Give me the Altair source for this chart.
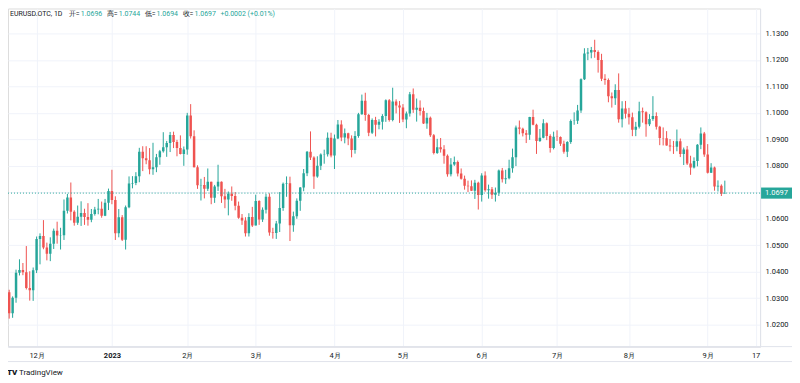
import altair as alt
import pandas as pd

# Daily EUR/USD candles, 2022-11-21 .. 2023-09-08 (one per weekday)
opens = [1.0323, 1.0243, 1.0302, 1.0396, 1.0407, 1.0398, 1.0339, 1.0330,
         1.0406, 1.0524, 1.0535, 1.0492, 1.0468, 1.0506, 1.0555, 1.0537, 1.0538, 1.0630, 1.0680, 1.0627,
         1.0585, 1.0608, 1.0622, 1.0607, 1.0596, 1.0618, 1.0635, 1.0638, 1.0611, 1.0661,
         1.0705, 1.0671, 1.0545, 1.0606, 1.0521, 1.0644, 1.0733, 1.0735, 1.0761, 1.0853, 1.0829,
         1.0821, 1.0787, 1.0795, 1.0832, 1.0855, 1.0870, 1.0886, 1.0916, 1.0890, 1.0867, 1.0845,
         1.0862, 1.0990, 1.0912, 1.0795, 1.0727, 1.0728, 1.0713, 1.0740, 1.0679, 1.0722,
         1.0740, 1.0685, 1.0673, 1.0695, 1.0686, 1.0649, 1.0604, 1.0594, 1.0545, 1.0607,
         1.0575, 1.0667, 1.0597, 1.0634, 1.0683, 1.0548, 1.0546, 1.0582, 1.0641, 1.0732,
         1.0734, 1.0576, 1.0610, 1.0668, 1.0718, 1.0772, 1.0853, 1.0831, 1.0760, 1.0800,
         1.0843, 1.0844, 1.0906,
         1.0839, 1.0903, 1.0956, 1.0907, 1.0923, 1.0903, 1.0860, 1.0913, 1.0995, 1.1046,
         1.0992, 1.0925, 1.0973, 1.0955, 1.0966, 1.0988, 1.1048, 1.0973, 1.1043, 1.1028,
         1.1020, 1.0975, 1.0998, 1.1070, 1.1012, 1.1019, 1.1007, 1.0960, 1.0982, 1.0915,
         1.0848, 1.0870, 1.0863, 1.0838, 1.0768, 1.0805, 1.0814, 1.0771, 1.0751, 1.0725,
         1.0723, 1.0706, 1.0736,
         1.0690, 1.0763, 1.0708, 1.0712, 1.0691, 1.0698, 1.0782, 1.0749, 1.0753, 1.0791,
         1.0832, 1.0945, 1.0940, 1.0923, 1.0917, 1.0984, 1.0955, 1.0894, 1.0906, 1.0961,
         1.0913, 1.0867,
         1.0910, 1.0909, 1.0883, 1.0853, 1.0890, 1.0969, 1.0970, 1.1009, 1.1127, 1.1224,
         1.1228, 1.1237, 1.1230, 1.1200, 1.1129, 1.1124, 1.1063, 1.1055, 1.1086, 1.0976,
         1.1016,
         1.0997, 1.0983, 1.0936, 1.0948, 1.1006, 1.1002, 1.0957, 1.0977, 1.0988, 1.0948,
         1.0905, 1.0904, 1.0877, 1.0873, 1.0872, 1.0893, 1.0845, 1.0862, 1.0809, 1.0794,
         1.0818, 1.0880, 1.0922,
         1.0843, 1.0774, 1.0794, 1.0722, 1.0725, 1.0696]

highs = [1.0332, 1.0307, 1.0408, 1.0447, 1.0433, 1.0497, 1.0402, 1.0416,
         1.0533, 1.0545, 1.0595, 1.0510, 1.0530, 1.0563, 1.0589, 1.0566, 1.0673, 1.0694, 1.0737, 1.0632,
         1.0650, 1.0666, 1.0638, 1.0659, 1.0637, 1.0645, 1.0675, 1.0665, 1.0675, 1.0714,
         1.0785, 1.0685, 1.0637, 1.0614, 1.0650, 1.0760, 1.0761, 1.0776, 1.0868, 1.0874, 1.0874,
         1.0867, 1.0887, 1.0845, 1.0860, 1.0927, 1.0894, 1.0928, 1.0929, 1.0898, 1.0915, 1.0873,
         1.1000, 1.1033, 1.0934, 1.0802, 1.0751, 1.0758, 1.0790, 1.0740, 1.0728, 1.0804,
         1.0741, 1.0713, 1.0703, 1.0722, 1.0701, 1.0665, 1.0618, 1.0606, 1.0621, 1.0645,
         1.0691, 1.0670, 1.0643, 1.0694, 1.0696, 1.0566, 1.0592, 1.0701, 1.0737, 1.0760,
         1.0759, 1.0627, 1.0677, 1.0720, 1.0788, 1.0856, 1.0930, 1.0836, 1.0836, 1.0847,
         1.0861, 1.0926, 1.0925,
         1.0918, 1.0973, 1.0972, 1.0941, 1.0925, 1.0915, 1.0931, 1.1000, 1.1069, 1.1076,
         1.0996, 1.0979, 1.0985, 1.0976, 1.0995, 1.1051, 1.1052, 1.1095, 1.1051, 1.1045,
         1.1033, 1.1005, 1.1079, 1.1092, 1.1054, 1.1047, 1.1020, 1.1000, 1.0986, 1.0920,
         1.0902, 1.0905, 1.0878, 1.0843, 1.0829, 1.0835, 1.0820, 1.0790, 1.0763, 1.0744,
         1.0745, 1.0747, 1.0740,
         1.0772, 1.0779, 1.0729, 1.0720, 1.0718, 1.0786, 1.0792, 1.0785, 1.0823, 1.0865,
         1.0952, 1.0971, 1.0944, 1.0935, 1.0985, 1.1012, 1.0959, 1.0939, 1.0976, 1.0964,
         1.0919, 1.0929,
         1.0934, 1.0911, 1.0895, 1.0893, 1.0975, 1.1002, 1.1030, 1.1130, 1.1244, 1.1245,
         1.1249, 1.1276, 1.1236, 1.1223, 1.1146, 1.1130, 1.1077, 1.1108, 1.1149, 1.1044,
         1.1045,
         1.1019, 1.1001, 1.0966, 1.1042, 1.1020, 1.1006, 1.0995, 1.1063, 1.1002, 1.0951,
         1.0945, 1.0931, 1.0901, 1.0894, 1.0937, 1.0903, 1.0869, 1.0875, 1.0838, 1.0832,
         1.0882, 1.0945, 1.0928,
         1.0882, 1.0810, 1.0797, 1.0745, 1.0730, 1.0744]

lows = [1.0223, 1.0226, 1.0283, 1.0386, 1.0387, 1.0333, 1.0291, 1.0290,
        1.0395, 1.0428, 1.0485, 1.0443, 1.0440, 1.0486, 1.0506, 1.0484, 1.0520, 1.0620, 1.0594, 1.0574,
        1.0577, 1.0573, 1.0577, 1.0574, 1.0587, 1.0612, 1.0617, 1.0604, 1.0610, 1.0633,
        1.0655, 1.0520, 1.0530, 1.0516, 1.0484, 1.0640, 1.0715, 1.0727, 1.0738, 1.0780, 1.0806,
        1.0768, 1.0766, 1.0776, 1.0804, 1.0850, 1.0834, 1.0852, 1.0867, 1.0836, 1.0843, 1.0800,
        1.0842, 1.0903, 1.0794, 1.0713, 1.0669, 1.0677, 1.0705, 1.0655, 1.0660, 1.0705,
        1.0660, 1.0640, 1.0613, 1.0668, 1.0632, 1.0600, 1.0577, 1.0533, 1.0533, 1.0569,
        1.0575, 1.0577, 1.0588, 1.0620, 1.0536, 1.0525, 1.0524, 1.0550, 1.0630, 1.0683,
        1.0516, 1.0551, 1.0600, 1.0630, 1.0704, 1.0761, 1.0822, 1.0713, 1.0755, 1.0784,
        1.0808, 1.0835, 1.0832,
        1.0788, 1.0901, 1.0893, 1.0885, 1.0878, 1.0832, 1.0846, 1.0906, 1.0993, 1.0970,
        1.0912, 1.0920, 1.0911, 1.0938, 1.0937, 1.0966, 1.0967, 1.0968, 1.0998, 1.0962,
        1.0965, 1.0942, 1.0986, 1.1000, 1.0967, 1.0990, 1.0958, 1.0940, 1.0909, 1.0843,
        1.0845, 1.0850, 1.0808, 1.0759, 1.0760, 1.0800, 1.0760, 1.0748, 1.0710, 1.0701,
        1.0705, 1.0675, 1.0635,
        1.0665, 1.0702, 1.0676, 1.0675, 1.0665, 1.0686, 1.0737, 1.0732, 1.0749, 1.0774,
        1.0799, 1.0919, 1.0911, 1.0886, 1.0898, 1.0953, 1.0845, 1.0890, 1.0904, 1.0897,
        1.0850, 1.0862,
        1.0894, 1.0875, 1.0846, 1.0833, 1.0883, 1.0955, 1.0958, 1.1000, 1.1124, 1.1199,
        1.1206, 1.1208, 1.1152, 1.1120, 1.1106, 1.1040, 1.1020, 1.1030, 1.0963, 1.0945,
        1.0979,
        1.0956, 1.0912, 1.0912, 1.0941, 1.0963, 1.0910, 1.0950, 1.0970, 1.0937, 1.0878,
        1.0877, 1.0876, 1.0855, 1.0845, 1.0855, 1.0833, 1.0803, 1.0803, 1.0766, 1.0790,
        1.0798, 1.0863, 1.0834,
        1.0771, 1.0773, 1.0706, 1.0703, 1.0686, 1.0694]

closes = [1.0243, 1.0302, 1.0396, 1.0407, 1.0398, 1.0339, 1.0330, 1.0406,
          1.0524, 1.0535, 1.0492, 1.0468, 1.0506, 1.0555, 1.0537, 1.0538, 1.0630, 1.0680, 1.0627, 1.0585,
          1.0608, 1.0622, 1.0607, 1.0596, 1.0618, 1.0635, 1.0638, 1.0611, 1.0661, 1.0705,
          1.0671, 1.0545, 1.0606, 1.0521, 1.0644, 1.0733, 1.0735, 1.0761, 1.0853, 1.0829, 1.0821,
          1.0787, 1.0795, 1.0832, 1.0855, 1.0870, 1.0886, 1.0916, 1.0890, 1.0867, 1.0845, 1.0862,
          1.0990, 1.0912, 1.0795, 1.0727, 1.0728, 1.0713, 1.0740, 1.0679, 1.0722, 1.0740,
          1.0685, 1.0673, 1.0695, 1.0686, 1.0649, 1.0604, 1.0594, 1.0545, 1.0607, 1.0575,
          1.0667, 1.0597, 1.0634, 1.0683, 1.0548, 1.0546, 1.0582, 1.0641, 1.0732, 1.0734,
          1.0576, 1.0610, 1.0668, 1.0718, 1.0772, 1.0853, 1.0831, 1.0760, 1.0800, 1.0843,
          1.0844, 1.0906, 1.0839,
          1.0903, 1.0956, 1.0907, 1.0923, 1.0903, 1.0860, 1.0913, 1.0995, 1.1046, 1.0992,
          1.0925, 1.0973, 1.0955, 1.0966, 1.0988, 1.1048, 1.0973, 1.1043, 1.1028, 1.1020,
          1.0975, 1.0998, 1.1070, 1.1012, 1.1019, 1.1007, 1.0960, 1.0982, 1.0915, 1.0848,
          1.0870, 1.0863, 1.0838, 1.0768, 1.0805, 1.0814, 1.0771, 1.0751, 1.0725, 1.0723,
          1.0706, 1.0736, 1.0690,
          1.0763, 1.0708, 1.0712, 1.0691, 1.0698, 1.0782, 1.0749, 1.0753, 1.0791, 1.0832,
          1.0945, 1.0940, 1.0923, 1.0917, 1.0984, 1.0955, 1.0894, 1.0906, 1.0961, 1.0913,
          1.0867, 1.0910,
          1.0909, 1.0883, 1.0853, 1.0890, 1.0969, 1.0970, 1.1009, 1.1127, 1.1224, 1.1228,
          1.1237, 1.1230, 1.1200, 1.1129, 1.1124, 1.1063, 1.1055, 1.1086, 1.0976, 1.1016,
          1.0997,
          1.0983, 1.0936, 1.0948, 1.1006, 1.1002, 1.0957, 1.0977, 1.0988, 1.0948, 1.0905,
          1.0904, 1.0877, 1.0873, 1.0872, 1.0893, 1.0845, 1.0862, 1.0809, 1.0794, 1.0818,
          1.0880, 1.0922, 1.0843,
          1.0774, 1.0794, 1.0722, 1.0725, 1.0695, 1.0697]

# time-axis labels (bar index -> label)
tick_idx = [8, 30, 52, 72, 95, 115, 138, 160, 181, 204, 218]
tick_lbl = ["12月", "2023", "2月", "3月", "4月", "5月", "6月", "7月", "8月", "9月", "17"]
bold_idx = 30

price_ticks = [1.02, 1.03, 1.04, 1.05, 1.06, 1.07, 1.08, 1.09, 1.10, 1.11, 1.12, 1.13, 1.14]
last_price = 1.0697
last_label = "1.0697"

header_text = ["EURUSD.OTC, 1D", "开=", "1.0696", "高=", "1.0744", "低=", "1.0694",
               "收=", "1.0697", "+0.0002 (+0.01%)"]
header_kind = ["dark", "dark", "val", "dark", "val", "dark", "val", "dark", "val", "val"]

# ---------------- styling / layout ----------------
UP, DOWN = "#26a69a", "#ef5350"
DARK = "#131722"
GRID = "#f0f3fa"
LINE = "#e0e3eb"
FONT = "Roboto"
FS = 7.5
HFS = 7
W, H = 754, 339
X_DOM = [-0.35, 219.3]
Y_DOM = [1.01173, 1.13942]
header_x = [2, 61, 73, 99, 111, 137, 149, 175, 187, 213]

n = len(closes)
df = pd.DataFrame({"i": list(range(n)), "open": opens, "high": highs,
                   "low": lows, "close": closes})
df["dir"] = ["up" if c >= o else "down" for o, c in zip(opens, closes)]

label_expr = " : ".join(f"datum.value == {v} ? '{t}'" for v, t in zip(tick_idx, tick_lbl)) + " : ''"

xs = alt.Scale(domain=X_DOM, nice=False, zero=False)
ys = alt.Scale(domain=Y_DOM, nice=False, zero=False)
color = alt.Color("dir:N", scale=alt.Scale(domain=["up", "down"], range=[UP, DOWN]), legend=None)

x_axis = alt.Axis(values=tick_idx, labelExpr=label_expr, title=None, grid=True,
                  gridColor=GRID, domain=True, domainColor=LINE, ticks=False,
                  labelFontSize=FS, labelColor=DARK, labelPadding=5, labelFont=FONT,
                  labelFontWeight={"condition": {"test": f"datum.value == {bold_idx}", "value": "bold"},
                                   "value": "normal"})
y_axis = alt.Axis(orient="right", values=price_ticks, format=".4f", title=None, grid=True,
                  gridColor=GRID, domain=True, domainColor=LINE, ticks=False,
                  labelFontSize=FS, labelColor=DARK, labelPadding=5, labelFont=FONT)

base = alt.Chart(df)
wicks = base.mark_rule(strokeWidth=1, clip=True).encode(
    x=alt.X("i:Q", scale=xs, axis=x_axis),
    y=alt.Y("low:Q", scale=ys, axis=y_axis),
    y2="high:Q",
    color=color,
)
bodies = base.transform_calculate(
    x1="datum.i - 0.36", x2="datum.i + 0.36"
).mark_rect(clip=True).encode(
    x=alt.X("x1:Q", scale=xs, axis=x_axis),
    x2="x2:Q",
    y=alt.Y("open:Q", scale=ys, axis=y_axis),
    y2="close:Q",
    color=color,
)

lp = pd.DataFrame({"p": [last_price], "lbl": [last_label]})
price_line = alt.Chart(lp).mark_rule(color=UP, strokeDash=[1, 2], strokeWidth=1).encode(
    y=alt.Y("p:Q", scale=ys, axis=y_axis))
tag_box = alt.Chart(lp).transform_calculate(
    hi="datum.p + 0.0021", lo="datum.p - 0.0021"
).mark_rect(color=UP).encode(
    x=alt.value(755), x2=alt.value(786),
    y=alt.Y("hi:Q", scale=ys, axis=y_axis), y2="lo:Q")
tag_text = alt.Chart(lp).mark_text(color="white", fontSize=FS, font=FONT, align="center",
                                   baseline="middle").encode(
    x=alt.value(770.5), y=alt.Y("p:Q", scale=ys, axis=y_axis), text="lbl:N")

bottom_line = alt.Chart(lp).mark_rule(color=LINE, strokeWidth=1).encode(
    x=alt.value(0), x2=alt.value(786), y=alt.value(H))
footer_line = alt.Chart(lp).mark_rule(color=LINE, strokeWidth=1).encode(
    x=alt.value(0), x2=alt.value(786), y=alt.value(H + 15))

layers = [wicks, bodies, price_line, tag_box, tag_text, bottom_line, footer_line]

for t, k, hx in zip(header_text, header_kind, header_x):
    layers.append(
        alt.Chart(pd.DataFrame({"t": [t]})).mark_text(
            align="left", baseline="middle", fontSize=HFS, font=FONT,
            color=(UP if k == "val" else DARK)
        ).encode(x=alt.value(hx), y=alt.value(6), text="t:N")
    )

logo_df = pd.DataFrame({"t": ["TV"], "u": ["TradingView"]})
layers.append(alt.Chart(logo_df).mark_text(align="left", baseline="middle", fontSize=8,
                                           font=FONT, fontWeight=900, color=DARK).encode(
    x=alt.value(-1), y=alt.value(H + 26), text="t:N"))
layers.append(alt.Chart(logo_df).mark_text(align="left", baseline="middle", fontSize=8,
                                           font=FONT, color=DARK).encode(
    x=alt.value(11), y=alt.value(H + 26), text="u:N"))

chart = alt.layer(*layers).properties(
    width=W, height=H,
    padding={"left": 0, "top": 0, "right": 32, "bottom": 33},
    autosize=alt.AutoSizeParams(type="none"),
).configure_view(strokeWidth=0).configure(font=FONT)

chart.save("out.html", embed_options={"renderer": "svg", "actions": False})
